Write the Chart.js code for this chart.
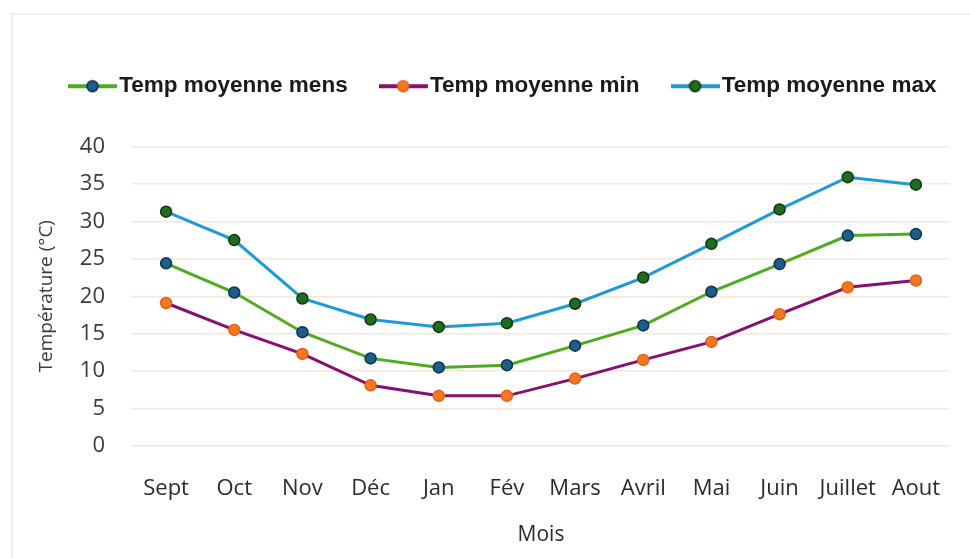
<!DOCTYPE html>
<html>
<head>
<meta charset="utf-8">
<script src="https://cdn.jsdelivr.net/npm/chart.js@4.4.1/dist/chart.umd.min.js"></script>
<style>
  body { margin: 0; background: #fff; }
  #wrap { position: relative; width: 970px; height: 558px; }
  #frame {
    position: absolute; left: 11px; top: 13px; right: 0; bottom: 0;
    border-left: 2px solid #f8ece1; border-top: 2px solid #f8ece1;
  }
  #wrap canvas { position: absolute; left: 0; top: 0; }
</style>
</head>
<body>
<div id="wrap">
  <div id="frame"></div>
  <canvas id="tempChart" width="970" height="558"></canvas>
</div>
<script>
// Data
const months = ['Sept', 'Oct', 'Nov', 'Déc', 'Jan', 'Fév', 'Mars', 'Avril', 'Mai', 'Juin', 'Juillet', 'Aout'];
const tempMens = [24.4, 20.5, 15.2, 11.7, 10.5, 10.8, 13.4, 16.1, 20.6, 24.3, 28.1, 28.3];
const tempMin = [19.1, 15.5, 12.3, 8.1, 6.7, 6.7, 9.0, 11.5, 13.9, 17.6, 21.2, 22.1];
const tempMax = [31.3, 27.5, 19.7, 16.9, 15.9, 16.4, 19.0, 22.5, 27.0, 31.6, 35.9, 34.9];
const yTicks = [0, 5, 10, 15, 20, 25, 30, 35, 40];

// Series look: line colour, dot fill, dot outline
const looks = [
  { label: 'Temp moyenne mens', data: tempMens, line: '#4cad1d', dot: '#1d5d8a', rim: '#0e3452' },
  { label: 'Temp moyenne min', data: tempMin, line: '#870f6f', dot: '#f7761f', rim: '#e2621a' },
  { label: 'Temp moyenne max', data: tempMax, line: '#1c9bd8', dot: '#1f6b1f', rim: '#0d3a0d' }
];

// Little line-with-dot picture for the legend
function legendMarker(look) {
  const c = document.createElement('canvas');
  c.width = 49;
  c.height = 14;
  const g = c.getContext('2d');
  g.strokeStyle = look.line;
  g.lineWidth = 4;
  g.beginPath();
  g.moveTo(0, 7);
  g.lineTo(49, 7);
  g.stroke();
  g.beginPath();
  g.arc(24.5, 7, 5.5, 0, Math.PI * 2);
  g.fillStyle = look.dot;
  g.fill();
  g.lineWidth = 1.5;
  g.strokeStyle = look.rim;
  g.stroke();
  return c;
}
const markers = looks.map(legendMarker);

// Keep the legend on one row and push the plot down below it
const legendGap = {
  id: 'legendGap',
  beforeInit(chart) {
    const fit = chart.legend.fit;
    chart.legend.fit = function () {
      this.maxWidth = 1200;
      fit.bind(chart.legend)();
      this.height += 39;
    };
  },
  afterLayout(chart) {
    chart.legend.right = 1200;
  }
};

const ctx = document.getElementById('tempChart').getContext('2d');
new Chart(ctx, {
  type: 'line',
  data: {
    labels: months,
    datasets: looks.map(l => ({
      label: l.label,
      data: l.data,
      borderColor: l.line,
      backgroundColor: l.dot,
      borderWidth: 3,
      pointRadius: 5.5,
      pointHoverRadius: 5.5,
      pointBackgroundColor: l.dot,
      pointBorderColor: l.rim,
      pointBorderWidth: 1.5,
      tension: 0
    }))
  },
  options: {
    responsive: false,
    animation: false,
    layout: { padding: { left: 37, right: 20, top: 35, bottom: 0 } },
    plugins: {
      tooltip: { enabled: false },
      legend: {
        align: 'start',
        labels: {
          usePointStyle: true,
          pointStyleWidth: 31,
          padding: 40,
          color: '#1a1a1a',
          font: { family: 'Liberation Sans, Arial, sans-serif', size: 22.5, weight: 'bold' },
          generateLabels(chart) {
            const items = Chart.defaults.plugins.legend.labels.generateLabels(chart);
            items.forEach((it, i) => { it.pointStyle = markers[i]; });
            return items;
          }
        }
      }
    },
    scales: {
      x: {
        offset: true,
        grid: { display: false },
        border: { display: false },
        ticks: {
          padding: 22,
          color: '#2b2b2b',
          maxRotation: 0,
          autoSkip: false,
          font: { family: 'Open Sans, sans-serif', size: 22 }
        },
        title: {
          display: true,
          text: 'Mois',
          color: '#2b2b2b',
          padding: { top: 0, bottom: 10 },
          font: { family: 'Open Sans, sans-serif', size: 21 }
        },
        afterFit(scale) { scale.height = 112; }
      },
      y: {
        min: 0,
        max: 40,
        afterBuildTicks(scale) { scale.ticks = yTicks.map(v => ({ value: v })); },
        grid: { color: '#f7e7d8', lineWidth: 1.5, drawTicks: false },
        border: { display: false },
        ticks: {
          padding: 27,
          color: '#3a3a3a',
          font: { family: 'Open Sans, sans-serif', size: 22 }
        },
        title: {
          display: true,
          text: 'Température (°C)',
          color: '#3a3a3a',
          padding: { top: 0, bottom: 0 },
          font: { family: 'Open Sans, sans-serif', size: 19, lineHeight: 1 }
        },
        afterFit(scale) { scale.width = 95; }
      }
    }
  },
  plugins: [legendGap]
});
</script>
</body>
</html>
